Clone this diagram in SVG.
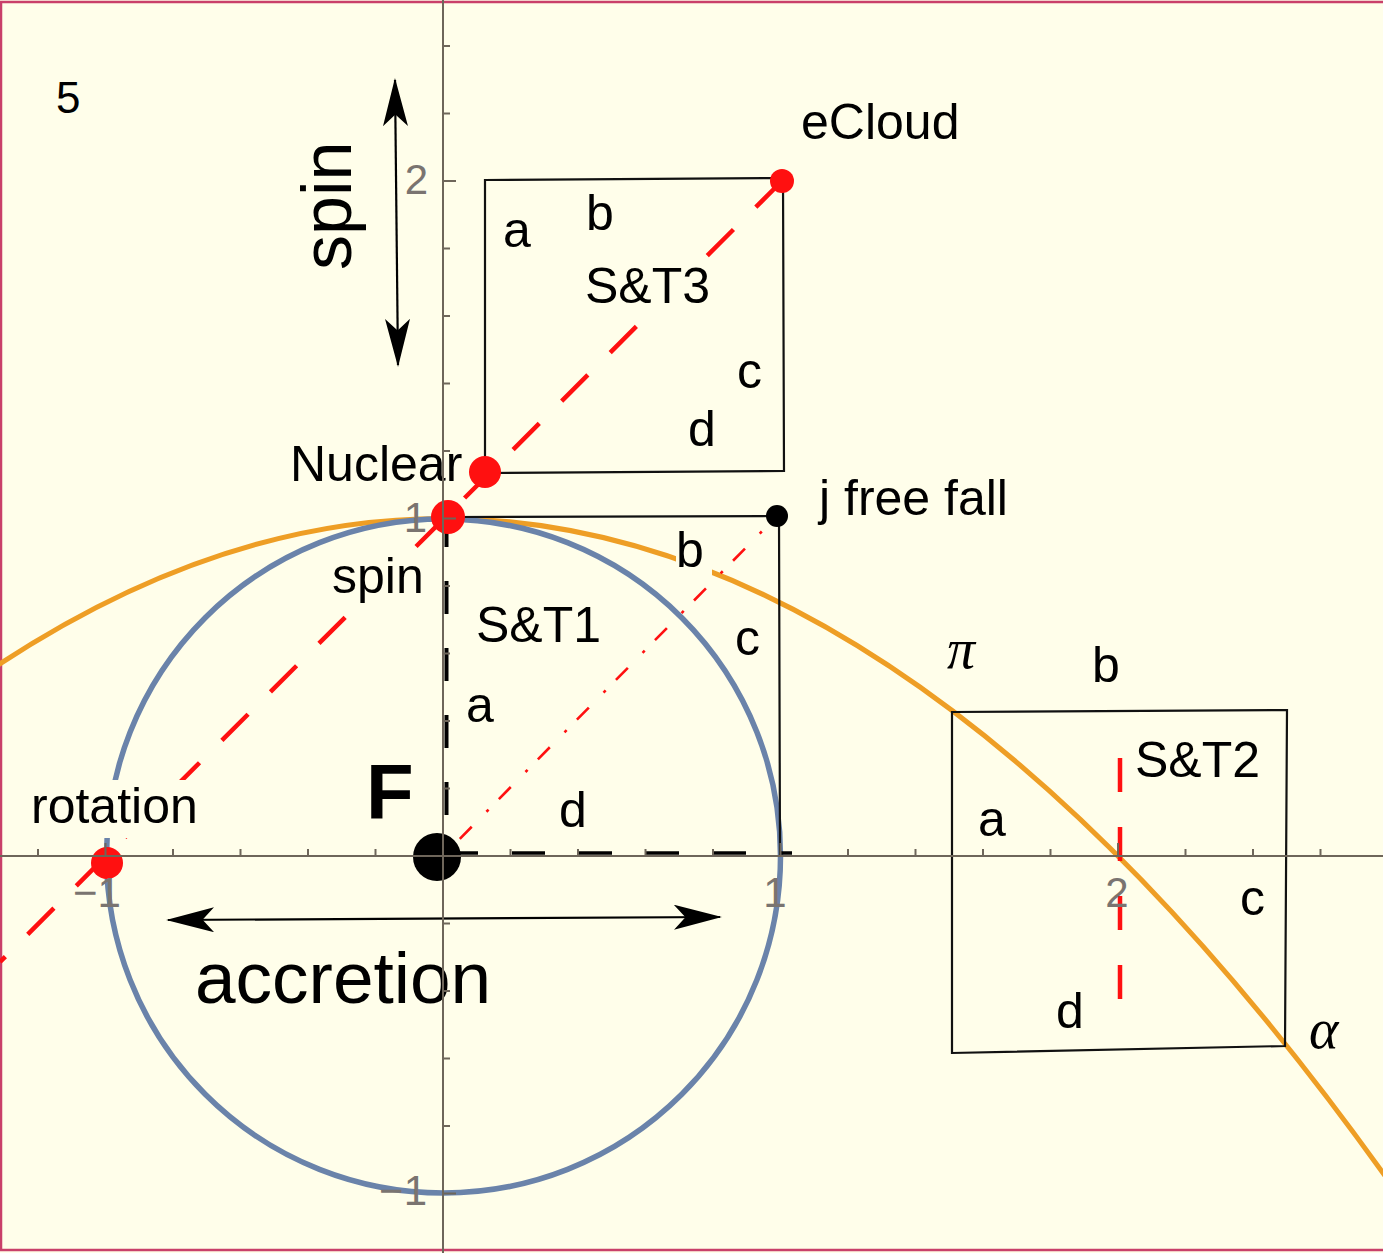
<svg xmlns="http://www.w3.org/2000/svg" width="1383" height="1253" viewBox="0 0 1383 1253">
<style>
.lbl{font-family:"Liberation Sans",Arial,sans-serif;font-size:50px;fill:#000}
.big{font-family:"Liberation Sans",Arial,sans-serif;font-size:73px;fill:#000}
.greek{font-family:"Liberation Serif","Times New Roman",serif;font-style:italic;font-size:56px;fill:#000}
.tick{font-family:"Liberation Sans",Arial,sans-serif;font-size:42px;fill:#7a7470}
.bg{fill:#fffeea}
.box{fill:none;stroke:#111;stroke-width:2.2}
.ax{stroke:#6e665a;stroke-width:2;fill:none}
.arrow{stroke:#000;stroke-width:2.2;fill:none}
</style>
<defs>
<marker id="stealth" viewBox="0 0 50 26" refX="48" refY="13" markerWidth="48" markerHeight="25" markerUnits="userSpaceOnUse" orient="auto-start-reverse">
<path d="M0,0 L50,13 L0,26 L12,13 Z" fill="#000"/>
</marker>
</defs>
<rect x="0" y="0" width="1383" height="1253" fill="#fffeea"/>
<rect x="1" y="2" width="1400" height="1248" fill="none" stroke="#c9406a" stroke-width="2.5"/>

<g id="curves">
<path d="M -2.5,665.5 Q 696.1,204.4 1394.75,1189.5" fill="none" stroke="#ee9e25" stroke-width="5"/>
<circle cx="443.5" cy="856" r="337" fill="none" stroke="#6a83aa" stroke-width="5.5"/>
</g>

<g id="node-st3">
<path class="box" d="M485,180 L783,178 L784,471 L485,473 Z"/>
</g>
<g id="node-st1">
<path class="box" d="M448,517 L777,516 M779,516 L780,856"/>
</g>
<g id="node-st2">
<path class="box" d="M952,712 L1287,710 L1285,1046 L952,1053 Z"/>
</g>

<g id="connectors">
<line x1="0" y1="962" x2="782" y2="181" stroke="#ff1010" stroke-width="4.5" stroke-dasharray="37 31.6" stroke-dashoffset="29.4"/>
<line x1="443" y1="856" x2="777" y2="516" stroke="#ff1010" stroke-width="2.6" stroke-dasharray="17 21 3 14.7" stroke-dashoffset="31.7"/>
<line x1="446.5" y1="514" x2="446.5" y2="856" stroke="#000" stroke-width="4" stroke-dasharray="33 34"/>
<line x1="445" y1="853" x2="792" y2="853" stroke="#000" stroke-width="3.5" stroke-dasharray="33 34"/>
<line x1="1120" y1="758" x2="1120" y2="1000" stroke="#ff1010" stroke-width="4.5" stroke-dasharray="34 35"/>
<line class="arrow" x1="395" y1="80" x2="398" y2="365" marker-start="url(#stealth)" marker-end="url(#stealth)"/>
<line class="arrow" x1="168" y1="920" x2="720" y2="917" marker-start="url(#stealth)" marker-end="url(#stealth)"/>
</g>

<g id="labels">
<rect class="bg" x="580" y="262" width="138" height="50"/>
<rect class="bg" x="330" y="548" width="100" height="58"/>
<rect class="bg" x="30" y="780" width="173" height="58"/>
<rect class="bg" x="676" y="530" width="36" height="48"/>
<text class="lbl" x="56" y="113" style="font-size:44px">5</text>
<text class="lbl" x="801" y="139">eCloud</text>
<text class="lbl" x="503" y="247">a</text>
<text class="lbl" x="586" y="230">b</text>
<text class="lbl" x="585" y="303">S&amp;T3</text>
<text class="lbl" x="737" y="388">c</text>
<text class="lbl" x="688" y="446">d</text>
<text class="lbl" x="290" y="481">Nuclear</text>
<text class="lbl" x="819" y="515">j free fall</text>
<text class="lbl" x="676" y="567">b</text>
<text class="lbl" x="476" y="642">S&amp;T1</text>
<text class="lbl" x="735" y="655">c</text>
<text class="lbl" x="466" y="722">a</text>
<text class="lbl" x="559" y="827">d</text>
<text class="lbl" x="366" y="819" style="font-size:78px;font-weight:bold">F</text>
<text class="lbl" x="332" y="593">spin</text>
<text class="lbl" x="31" y="823">rotation</text>
<text class="big" x="195" y="1003">accretion</text>
<text class="lbl" transform="translate(351,270) rotate(-90)" style="font-size:70px">spin</text>
<text class="greek" x="947" y="668">π</text>
<text class="lbl" x="1092" y="682">b</text>
<text class="lbl" x="1135" y="777">S&amp;T2</text>
<text class="lbl" x="978" y="836">a</text>
<text class="lbl" x="1240" y="915">c</text>
<text class="lbl" x="1056" y="1028">d</text>
<text class="greek" x="1309" y="1048">α</text>
</g>

<g id="points">
<circle id="pt-ecloud" cx="782" cy="181" r="12" fill="#ff1010"/>
<circle id="pt-nuclear" cx="485" cy="472" r="16" fill="#ff1010"/>
<circle id="pt-spin" cx="448" cy="517" r="17" fill="#ff1010"/>
<circle id="pt-rotation" cx="107" cy="863" r="16" fill="#ff1010"/>
<circle id="pt-F" cx="437" cy="857" r="24" fill="#000"/>
<circle id="pt-jfreefall" cx="777" cy="516" r="11" fill="#000"/>
</g>

<g id="axes">
<line class="ax" x1="0" y1="856" x2="1383" y2="856"/>
<line class="ax" x1="443" y1="0" x2="443" y2="1253"/>
<path class="ax" d="M38,856V849 M105.5,856V843 M173,856V849 M240.5,856V849 M308,856V849 M375.5,856V849 M510.5,856V849 M578,856V849 M645.5,856V849 M713,856V849 M780.5,856V843 M848,856V849 M915.5,856V849 M983,856V849 M1050.5,856V849 M1118,856V843 M1185.5,856V849 M1253,856V849 M1320.5,856V849"/>
<path class="ax" d="M443,1193.5H456 M443,1126H450 M443,1058.5H450 M443,991H450 M443,923.5H450 M443,788.5H450 M443,721H450 M443,653.5H450 M443,586H450 M443,518.5H456 M443,451H450 M443,383.5H450 M443,316H450 M443,248.5H450 M443,181H456 M443,113.5H450 M443,46H450"/>
<text class="tick" x="428" y="194" text-anchor="end">2</text>
<text class="tick" x="427" y="532" text-anchor="end">1</text>
<text class="tick" x="427" y="1205" text-anchor="end">−1</text>
<text class="tick" x="97" y="907" text-anchor="middle">−1</text>
<text class="tick" x="775" y="907" text-anchor="middle">1</text>
<text class="tick" x="1117" y="907" text-anchor="middle">2</text>
</g>
</svg>
